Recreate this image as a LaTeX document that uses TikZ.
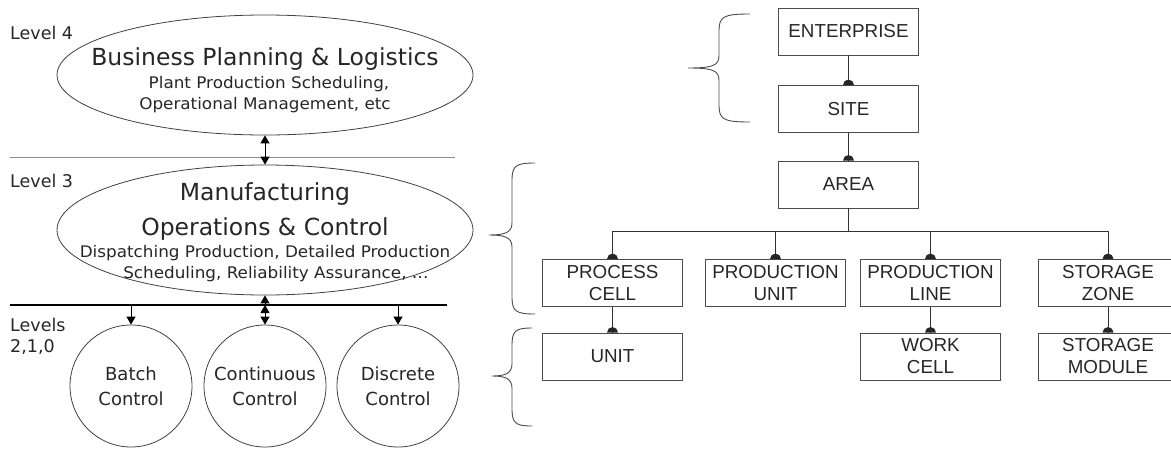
\documentclass[tikz,border=0pt]{standalone}
\usepackage{fontspec}
\usetikzlibrary{shapes.geometric,arrows.meta}
\newfontfamily\vfont{DejaVu Sans}
\newfontfamily\vwide[FakeStretch=1.05]{DejaVu Sans}
\newfontfamily\afont{Liberation Sans}
% filled half-disc sitting on the top edge of a child box
\newcommand\joint[1]{\fill[black!85] ([xshift=-5.5pt]#1) arc[start angle=180,end angle=0,radius=5.5pt] -- cycle;}
% curly brace: end x, spine x, tip x, top y, middle y, bottom y
\newcommand\curlybrace[6]{%
  \draw[brc] (#1,#4) .. controls (#2+3,#4) and (#2,#4+3) .. (#2,#4+18)
    -- (#2,#5-12) .. controls (#2,#5-2) and (#2-8,#5) .. (#3,#5)
    .. controls (#2-8,#5) and (#2,#5+2) .. (#2,#5+12)
    -- (#2,#6-18) .. controls (#2,#6-3) and (#2+3,#6) .. (#1,#6);}
\begin{document}
\begin{tikzpicture}[x=1pt,y=-1pt,
  ell/.style={draw=black!75, line width=0.8pt, ellipse, inner sep=0pt},
  ctl/.style={draw=black!75, line width=0.8pt, circle, minimum size=122pt, inner sep=0pt,
    align=center, font=\vfont\fontsize{18}{25}\selectfont, text=black!85},
  lvl/.style={anchor=base west, font=\vfont\fontsize{17.5}{21}\selectfont, text=black!85, inner sep=0pt},
  big/.style={anchor=base, font=\vfont\fontsize{23.5}{28}\selectfont, text=black!85, inner sep=0pt},
  small/.style={anchor=base, font=\vwide\fontsize{16}{19}\selectfont, text=black!85, inner sep=0pt},
  arr/.style={line width=1pt, black, >={Triangle[length=8pt,width=9pt]}},
  box/.style={draw=black!70, line width=0.9pt, minimum width=140pt, minimum height=47pt, inner sep=0pt,
    align=center, font=\afont\fontsize{18.8}{22}\selectfont, text=black!85},
  conn/.style={draw=black!80, line width=0.9pt},
  brc/.style={draw=black!70, line width=0.9pt}
]
\useasboundingbox (0,0) rectangle (1171,448);

% ---------- functional levels ----------
\coordinate (tlL) at (10,157);
\coordinate (tlR) at (455,157);
\coordinate (lbL) at (10,305);
\coordinate (lbR) at (447,305);
\draw[black!45, line width=0.8pt] (tlL) -- (tlR);
\draw[black, line width=1.3pt] (lbL) -- (lbR);

\node[lvl] (l4) at (10,39) {Level 4};
\node[lvl] (l3) at (10,187) {Level 3};
\node[lvl] (l2a) at (10,331) {Levels};
\node[lvl] (l2b) at (10,352) {2,1,0};

\node[ell, minimum width=416pt, minimum height=120pt] (bp) at (265,75) {};
\node[big] (bpt) at (265,65) {Business Planning \& Logistics};
\node[small] (bps1) at (269,88) {Plant Production Scheduling,};
\node[small] (bps2) at (265,109) {Operational Management, etc};

\node[ell, minimum width=416pt, minimum height=130pt] (mo) at (265,230) {};
\node[big] (mot1) at (265,200) {Manufacturing};
\node[big] (mot2) at (265,235) {Operations \& Control};
\node[small] (mos1) at (265,257) {Dispatching Production, Detailed Production};
\node[small] (mos2) at (276,278) {Scheduling, Reliability Assurance, \dots};

\node[ctl] (batch) at (131,386) {Batch\\Control};
\node[ctl] (cont) at (265,386) {Continuous\\Control};
\node[ctl] (disc) at (398,386) {Discrete\\Control};

\draw[arr, <->] (bp.south) -- (mo.north);
\draw[arr, ->] (mo.south |- lbL) -- (mo.south);
\draw[arr, ->] (batch.north |- lbL) -- (batch.north);
\draw[arr, <->] (cont.north |- lbL) -- (cont.north);
\draw[arr, ->] (disc.north |- lbL) -- (disc.north);

% ---------- equipment hierarchy ----------
\node[box] (ent) at (848.5,31.5) {ENTERPRISE};
\node[box] (site) at (848.5,109) {SITE};
\node[box] (area) at (848.5,184.5) {AREA};

\node[box] (pc) at (612.5,283) {PROCESS\\CELL};
\node[box] (pu) at (775.5,283) {PRODUCTION\\UNIT};
\node[box] (pl) at (930.5,283) {PRODUCTION\\LINE};
\node[box] (sz) at (1108,283) {STORAGE\\ZONE};

\node[box] (unit) at (612.5,356.5) {UNIT};
\node[box] (wc) at (930.5,356.5) {WORK\\CELL};
\node[box] (sm) at (1108,356.5) {STORAGE\\MODULE};

\coordinate (bus) at (848.5,231);

\draw[conn] (ent.south) -- (site.north); \joint{site.north}
\draw[conn] (site.south) -- (area.north); \joint{area.north}
\draw[conn] (area.south) -- (area.south |- bus);
\draw[conn] (pc.north) -- (pc.north |- bus) -- (sz.north |- bus) -- (sz.north);
\draw[conn] (pu.north |- bus) -- (pu.north);
\draw[conn] (pl.north |- bus) -- (pl.north);
\joint{pc.north} \joint{pu.north} \joint{pl.north} \joint{sz.north}
\draw[conn] (pc.south) -- (unit.north); \joint{unit.north}
\draw[conn] (pl.south) -- (wc.north); \joint{wc.north}
\draw[conn] (sz.south) -- (sm.north); \joint{sm.north}

\curlybrace{750}{719}{688}{14}{68}{122}
\curlybrace{535}{512}{489}{163}{235}{314}
\curlybrace{532}{512}{492}{328}{376}{426}
\end{tikzpicture}
\end{document}
